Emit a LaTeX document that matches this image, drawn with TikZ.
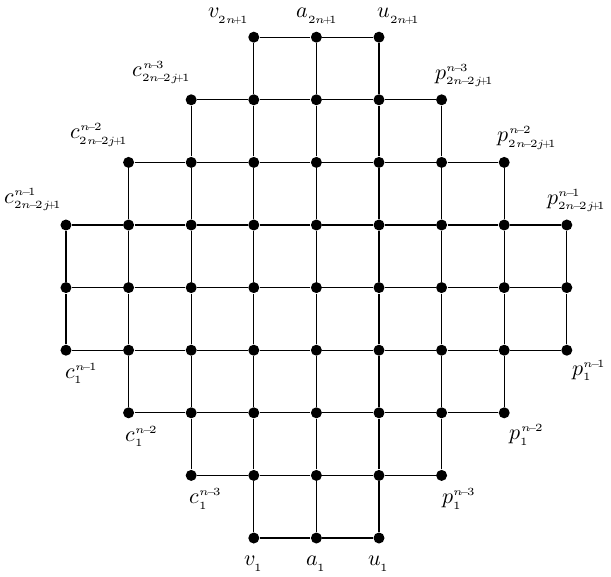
\documentclass[tikz,border=0pt]{standalone}
\usepackage{unicode-math}
\setmathfont{Latin Modern Math}
\usetikzlibrary{calc}
% vertex label with small indices, tight operators
\newcommand{\vlab}[3]{$#1^{\scriptscriptstyle #2}_{\scriptscriptstyle #3}$}
\newcommand{\lblminus}{\mkern-3.5mu-\mkern-3.5mu}
\newcommand{\lblplus}{\mkern-3.5mu+\mkern-3.5mu}

\begin{document}
\begin{tikzpicture}[x=1cm, y=1cm,
    vert/.style={circle, fill=black, inner sep=0pt, minimum size=5pt},
    link/.style={line width=0.6pt},
    lbl/.style={inner sep=0pt, font=\normalsize}]
  \useasboundingbox (-1.054,-0.607) rectangle (8.706,8.594);
  % ---- vertices, row by row (half-widths) ----
  \foreach \j/\w in {0/1,1/2,2/3,3/4,4/4,5/4,6/3,7/2,8/1} {
    \pgfmathtruncatemacro{\lo}{4-\w}
    \pgfmathtruncatemacro{\hi}{4+\w}
    \foreach \i in {\lo,...,\hi}
      \node[vert] (g-\i-\j) at (\i,\j) {};
  }
  % ---- horizontal edges ----
  \foreach \j/\w in {0/1,1/2,2/3,3/4,4/4,5/4,6/3,7/2,8/1} {
    \pgfmathtruncatemacro{\lo}{4-\w}
    \pgfmathtruncatemacro{\hi}{4+\w-1}
    \foreach \i in {\lo,...,\hi} {
      \pgfmathtruncatemacro{\k}{\i+1}
      \draw[link] (g-\i-\j) -- (g-\k-\j);
    }
  }
  % ---- vertical edges ----
  \foreach \j/\w in {0/1,1/2,2/3,3/4,4/4,5/3,6/2,7/1} {
    \pgfmathtruncatemacro{\lo}{4-\w}
    \pgfmathtruncatemacro{\hi}{4+\w}
    \pgfmathtruncatemacro{\m}{\j+1}
    \foreach \i in {\lo,...,\hi}
      \draw[link] (g-\i-\j) -- (g-\i-\m);
  }
  % ---- top labels ----
  \node[lbl, anchor=south east] (lv2) at ($(g-3-8)+(-0.07,0.2)$) {\vlab{v}{}{2n\lblplus 1}};
  \node[lbl, anchor=south] (la2) at ($(g-4-8)+(0.02,0.2)$) {\vlab{a}{}{2n\lblplus 1}};
  \node[lbl, anchor=south west] (lu2) at ($(g-5-8)+(-0.03,0.2)$) {\vlab{u}{}{2n\lblplus 1}};
  \node[lbl, anchor=south east] (lc3) at ($(g-2-7)+(0,0.25)$) {\vlab{c}{n\lblminus 3}{2n\lblminus 2j\lblplus 1}};
  \node[lbl, anchor=south east] (lc2) at ($(g-1-6)+(0,0.25)$) {\vlab{c}{n\lblminus 2}{2n\lblminus 2j\lblplus 1}};
  \node[lbl, anchor=south east] (lc1) at ($(g-0-5)+(-0.05,0.22)$) {\vlab{c}{n\lblminus 1}{2n\lblminus 2j\lblplus 1}};
  \node[lbl, anchor=south west] (lp3) at ($(g-6-7)+(-0.11,0.2)$) {\vlab{p}{n\lblminus 3}{2n\lblminus 2j\lblplus 1}};
  \node[lbl, anchor=south west] (lp2) at ($(g-7-6)+(-0.11,0.2)$) {\vlab{p}{n\lblminus 2}{2n\lblminus 2j\lblplus 1}};
  \node[lbl, anchor=south east] (lp1) at ($(g-8-5)+(0.64,0.2)$) {\vlab{p}{n\lblminus 1}{2n\lblminus 2j\lblplus 1}};
  % ---- bottom labels ----
  \node[lbl, anchor=north west] (bc1) at ($(g-0-3)+(-0.02,-0.2)$) {\vlab{c}{n\lblminus 1}{1}};
  \node[lbl, anchor=north west] (bc2) at ($(g-1-2)+(-0.05,-0.2)$) {\vlab{c}{n\lblminus 2}{1}};
  \node[lbl, anchor=north west] (bc3) at ($(g-2-1)+(-0.03,-0.2)$) {\vlab{c}{n\lblminus 3}{1}};
  \node[lbl, anchor=north west] (bp1) at ($(g-8-3)+(0.08,-0.15)$) {\vlab{p}{n\lblminus 1}{1}};
  \node[lbl, anchor=north west] (bp2) at ($(g-7-2)+(0.08,-0.18)$) {\vlab{p}{n\lblminus 2}{1}};
  \node[lbl, anchor=north west] (bp3) at ($(g-6-1)+(0,-0.2)$) {\vlab{p}{n\lblminus 3}{1}};
  \node[lbl, anchor=north] (lv1) at ($(g-3-0)+(0,-0.28)$) {\vlab{v}{}{1}};
  \node[lbl, anchor=north] (la1) at ($(g-4-0)+(0,-0.28)$) {\vlab{a}{}{1}};
  \node[lbl, anchor=north] (lu1) at ($(g-5-0)+(0,-0.28)$) {\vlab{u}{}{1}};
\end{tikzpicture}
\end{document}
